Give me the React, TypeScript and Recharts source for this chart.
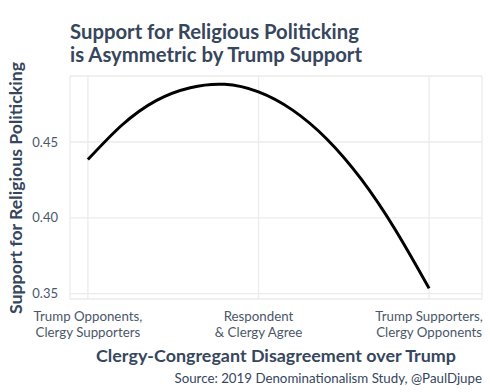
import React from "react";
import { LineChart, Line, XAxis, YAxis, CartesianGrid } from "recharts";

const xPositions = [-1, -0.8, -0.6, -0.4, -0.2, 0, 0.2, 0.4, 0.6, 0.8, 1];
const supportValues = [0.4384, 0.4612, 0.4773, 0.4858, 0.488, 0.483, 0.471, 0.452, 0.4258, 0.3925, 0.3535];
const xTickValues = [-1, 0, 1];
const xTickLabels = [
  ["Trump Opponents,", "Clergy Supporters"],
  ["Respondent", "& Clergy Agree"],
  ["Trump Supporters,", "Clergy Opponents"],
];
const yTickValues = [0.35, 0.4, 0.45];

const data = xPositions.map((x, i) => ({ x, y: supportValues[i] }));

const FONT = "Lato, 'Open Sans', sans-serif";
const DARK = "#36465d";
const TICK = "#4a576a";

const XTick = (props: any) => {
  const { x, payload } = props;
  const idx = xTickValues.indexOf(payload.value);
  const lines = idx >= 0 ? xTickLabels[idx] : [String(payload.value)];
  return (
    <text x={x} y={321} textAnchor="middle" fontFamily={FONT} fontSize={13.3} fill={TICK}>
      {lines.map((l, i) => (
        <tspan key={i} x={x} dy={i === 0 ? 0 : 16}>
          {l}
        </tspan>
      ))}
    </text>
  );
};

export default function App() {
  return (
    <div style={{ position: "absolute", left: 0, top: 0, width: 490, height: 392, background: "#fff" }}>
      <LineChart width={490} height={392} data={data} margin={{ top: 76, right: 8, left: 0, bottom: 0 }}>
        <CartesianGrid stroke="#ebebeb" strokeWidth={1.3} />
        <XAxis
          type="number"
          dataKey="x"
          domain={[-1.105, 1.31]}
          ticks={xTickValues}
          axisLine={false}
          tickLine={false}
          height={93}
          tick={<XTick />}
          interval={0}
          allowDataOverflow
        />
        <YAxis
          type="number"
          domain={[0.3465, 0.4935]}
          ticks={yTickValues}
          tickFormatter={(v: number) => v.toFixed(2)}
          axisLine={false}
          tickLine={false}
          tickSize={0}
          tickMargin={12}
          width={70}
          tick={{ fontFamily: FONT, fontSize: 13, fill: TICK }}
          allowDataOverflow
        />
        <Line
          type="natural"
          dataKey="y"
          stroke="#000"
          strokeWidth={3}
          dot={false}
          isAnimationActive={false}
        />
      </LineChart>
      <svg width={490} height={392} style={{ position: "absolute", left: 0, top: 0, pointerEvents: "none" }}>
        <text x={70} y={39} fontFamily={FONT} fontWeight={700} fontSize={20.3} fill={DARK}>
          Support for Religious Politicking
        </text>
        <text x={70} y={62} fontFamily={FONT} fontWeight={700} fontSize={20.3} fill={DARK}>
          is Asymmetric by Trump Support
        </text>
        <text
          x={0}
          y={0}
          transform="translate(22,188) rotate(-90)"
          textAnchor="middle"
          fontFamily={FONT}
          fontWeight={700}
          fontSize={17.7}
          fill={DARK}
        >
          Support for Religious Politicking
        </text>
        <text x={276} y={362} textAnchor="middle" fontFamily={FONT} fontWeight={700} fontSize={17.9} fill={DARK}>
          Clergy-Congregant Disagreement over Trump
        </text>
        <text x={482} y={383} textAnchor="end" fontFamily={FONT} fontSize={13.3} fill={DARK}>
          Source: 2019 Denominationalism Study, @PaulDjupe
        </text>
      </svg>
    </div>
  );
}
